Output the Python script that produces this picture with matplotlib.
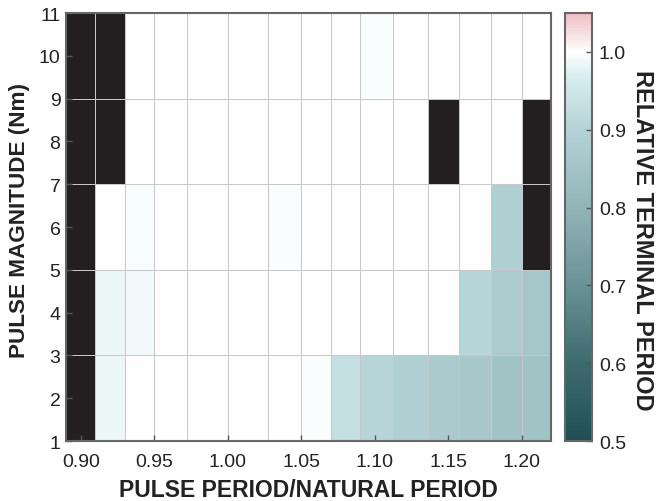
import numpy as np
import matplotlib
matplotlib.use("Agg")
import matplotlib.pyplot as plt
from matplotlib.colors import LinearSegmentedColormap, Normalize
from matplotlib.ticker import FormatStrFormatter

plt.rcParams['font.family'] = ['Liberation Sans', 'DejaVu Sans']

# Data
x_centers = [0.90, 0.92, 0.94, 0.96, 0.985, 1.015, 1.04, 1.06, 1.08, 1.10,
             1.125, 1.147, 1.168, 1.19, 1.21]
y_centers = [2, 4, 6, 8, 10]
nan = np.nan
# rows: magnitude 2, 4, 6, 8, 10 ; NaN = failed (black)
values = np.array([
    [nan, 0.984, 1.0, 1.0, 1.0, 1.0, 1.0, 0.996, 0.93, 0.905, 0.885, 0.87, 0.862, 0.848, 0.846],
    [nan, 0.984, 0.988, 1.0, 1.0, 1.0, 1.0, 1.0, 1.0, 1.0, 1.0, 1.0, 0.905, 0.875, 0.86],
    [nan, 1.0, 0.993, 1.0, 1.0, 1.0, 0.995, 1.0, 1.0, 1.0, 1.0, 1.0, 1.0, 0.885, nan],
    [nan, nan, 1.0, 1.0, 1.0, 1.0, 1.0, 1.0, 1.0, 1.0, 1.0, nan, 1.0, 1.0, nan],
    [nan, nan, 1.0, 1.0, 1.0, 1.0, 1.0, 1.0, 1.0, 0.995, 1.0, 1.0, 1.0, 1.0, 1.0],
])
x_ticks = [0.90, 0.95, 1.00, 1.05, 1.10, 1.15, 1.20]
y_ticks = list(range(1, 12))
cb_ticks = [0.5, 0.6, 0.7, 0.8, 0.9, 1.0]
vmin, vmax = 0.5, 1.05

# edges from centres
xc = np.array(x_centers)
xe = np.concatenate([[xc[0] - (xc[1] - xc[0]) / 2], (xc[:-1] + xc[1:]) / 2,
                     [xc[-1] + (xc[-1] - xc[-2]) / 2]])
yc = np.array(y_centers, dtype=float)
ye = np.concatenate([[yc[0] - 1], (yc[:-1] + yc[1:]) / 2, [yc[-1] + 1]])

def f(v):
    return (v - vmin) / (vmax - vmin)

cmap = LinearSegmentedColormap.from_list('rtp', [
    (f(0.5), '#1f4f55'),
    (f(0.6), '#3d6b70'),
    (f(0.7), '#6a9296'),
    (f(0.8), '#92b4b7'),
    (f(0.9), '#b4d3d6'),
    (f(0.97), '#d8eef1'),
    (f(1.0), '#ffffff'),
    (f(1.05), '#efbfc4'),
])
cmap.set_bad('#231f20')

fig = plt.figure(figsize=(6.56, 5.02), dpi=100)
ax = fig.add_axes([0.1006, 0.1195, 0.7393, 0.8526])
cax = fig.add_axes([0.8613, 0.1195, 0.0412, 0.8526])

mesh = ax.pcolormesh(xe, ye, np.ma.masked_invalid(values), cmap=cmap,
                     norm=Normalize(vmin, vmax), edgecolors='#c8c8c8',
                     linewidth=0.7)
ax.set_xlim(xe[0], xe[-1])
ax.set_ylim(1, 11)
ax.set_xticks(x_ticks)
ax.xaxis.set_major_formatter(FormatStrFormatter('%.2f'))
ax.set_yticks(y_ticks)
text_color = '#222222'
ax.tick_params(direction='in', length=4, width=1, color='#555555',
               labelsize=14, labelcolor=text_color)
ax.tick_params(axis='x', pad=8.5)
ax.tick_params(axis='y', pad=4)
for s in ax.spines.values():
    s.set_color('#666666')
    s.set_linewidth(1.5)
ax.set_xlabel('PULSE PERIOD/NATURAL PERIOD', fontsize=16.5, fontweight='bold',
              color=text_color, labelpad=6)
ax.set_ylabel('PULSE MAGNITUDE (Nm)', fontsize=16.2, fontweight='bold',
              color=text_color, labelpad=6)
ax.yaxis.label.set_y(0.5175)

cb = fig.colorbar(mesh, cax=cax)
cb.set_ticks(cb_ticks)
cb.ax.yaxis.set_major_formatter(FormatStrFormatter('%.1f'))
cb.ax.tick_params(direction='in', length=4, width=1, color='#555555',
                  labelsize=14, labelcolor=text_color, pad=5)
cb.outline.set_edgecolor('#666666')
cb.outline.set_linewidth(1.5)
cb.set_label('RELATIVE TERMINAL PERIOD', rotation=-90, fontsize=17,
             fontweight='bold', color=text_color, labelpad=20)
cb.ax.yaxis.label.set_y(0.472)

fig.savefig('out.png', dpi=100)
